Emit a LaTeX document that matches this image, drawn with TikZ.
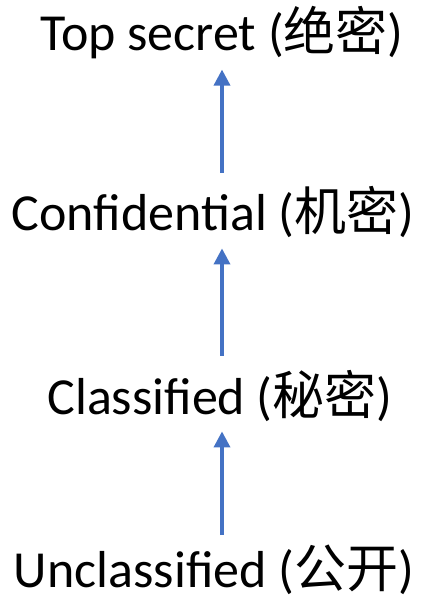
\documentclass[tikz,border=0pt]{standalone}
\usepackage{fontspec}
\setmainfont{Carlito}
\newfontfamily\cjk{Noto Sans CJK SC}
\usetikzlibrary{arrows.meta}
\begin{document}
\begin{tikzpicture}[x=1pt,y=-1pt,
  lvl/.style={inner sep=0pt, anchor=base, font=\fontsize{52}{60}\selectfont},
  up/.style={draw={rgb,255:red,68;green,114;blue,196}, line width=3.5pt,
    -{Triangle[length=16pt,width=16pt]}}]
\useasboundingbox (0,0) rectangle (428,601);
\node[lvl] (ts) at (222,51) {Top secret ({\cjk 绝密})};
\node[lvl] (cf) at (213,231) {Confidential ({\cjk 机密})};
\node[lvl] (cl) at (220,414) {Classified ({\cjk 秘密})};
\node[lvl] (uc) at (214,587) {Unclassified ({\cjk 公开})};
\draw[up, shorten <=14pt, shorten >=10pt] (cf.north -| 222,0) -- (ts.south -| 222,0);
\draw[up, shorten <=14pt, shorten >=10pt] (cl.north -| 222,0) -- (cf.south -| 222,0);
\draw[up, shorten <=9pt, shorten >=10pt] (uc.north -| 222,0) -- (cl.south -| 222,0);
\end{tikzpicture}
\end{document}
